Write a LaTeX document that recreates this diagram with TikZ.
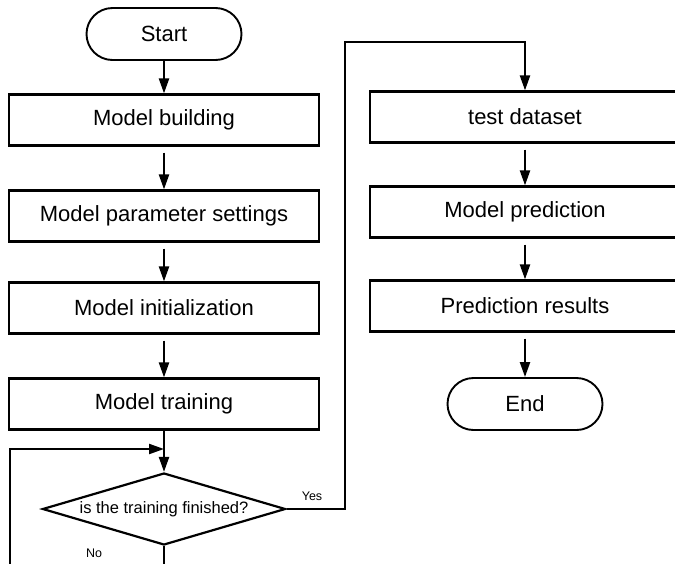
\documentclass[tikz,border=0pt]{standalone}
\usepackage{fontspec}
\setmainfont{Liberation Sans}
\usetikzlibrary{arrows.meta,shapes.geometric}

\begin{document}
\begin{tikzpicture}[x=1pt, y=-1pt,
    box/.style={draw, line width=2.2pt, minimum width=310pt, minimum height=51pt, inner sep=0pt, font=\fontsize{22}{26}\selectfont},
    pill/.style={draw, line width=1.9pt, rounded corners=26pt, minimum width=155pt, minimum height=52pt, inner sep=0pt, font=\fontsize{22}{26}\selectfont},
    decision/.style={draw, diamond, aspect=3.4, line width=2.2pt, minimum width=243pt, minimum height=72pt, inner sep=0pt, font=\fontsize{16.5}{20}\selectfont},
    tag/.style={inner sep=0pt, font=\fontsize{12.5}{14}\selectfont},
    flow/.style={line width=2.2pt, -{Triangle[length=15pt,width=10pt]}},
    gap/.style={shorten <=6pt}]
    \pgfmathsetmacro{\xl}{164}
    \pgfmathsetmacro{\xr}{525}
    \useasboundingbox (0,0) rectangle (675,563);
    % left column
    \node[pill] (start) at (\xl, 34) {Start};
    \node[box] (build) at (\xl, 120) {Model building};
    \node[box] (params) at (\xl, 216) {Model parameter settings};
    \node[box] (init) at (\xl, 308) {Model initialization};
    \node[box] (train) at (\xl, 404) {Model training};
    \node[decision] (check) at (\xl, 509) {is the training finished?};
    % right column
    \node[box] (test) at (\xr, 117) {test dataset};
    \node[box] (predict) at (\xr, 212) {Model prediction};
    \node[box] (results) at (\xr, 306) {Prediction results};
    \node[pill] (stop) at (\xr, 404) {End};
    \draw[flow] (start) -- (build);
    \draw[flow, gap] (build) -- (params);
    \draw[flow, gap] (params) -- (init);
    \draw[flow, gap] (init) -- (train);
    \draw[flow] (train) -- (check);
    \draw[flow, gap] (test) -- (predict);
    \draw[flow, gap] (predict) -- (results);
    \draw[flow, gap] (results) -- (stop);
    % no: back into the training loop
    \coordinate (nodown) at (\xl, 567);
    \coordinate (noleft) at (10, 567);
    \coordinate (noup) at (10, 449);
    \coordinate (nojoin) at (\xl, 449);
    \draw[flow] (check.south) -- (nodown) -- (noleft) -- (noup) -- (nojoin);
    % yes: on to the test data
    \coordinate (yesright) at (345, 509);
    \coordinate (yestop) at (345, 42);
    \draw[flow] (check.east) -- (yesright) -- (yestop) -- (yestop -| test.north) -- (test.north);
    \node[tag] (yes) at (312, 496) {Yes};
    \node[tag] (no) at (94, 553) {No};
  \end{tikzpicture}
\end{document}
